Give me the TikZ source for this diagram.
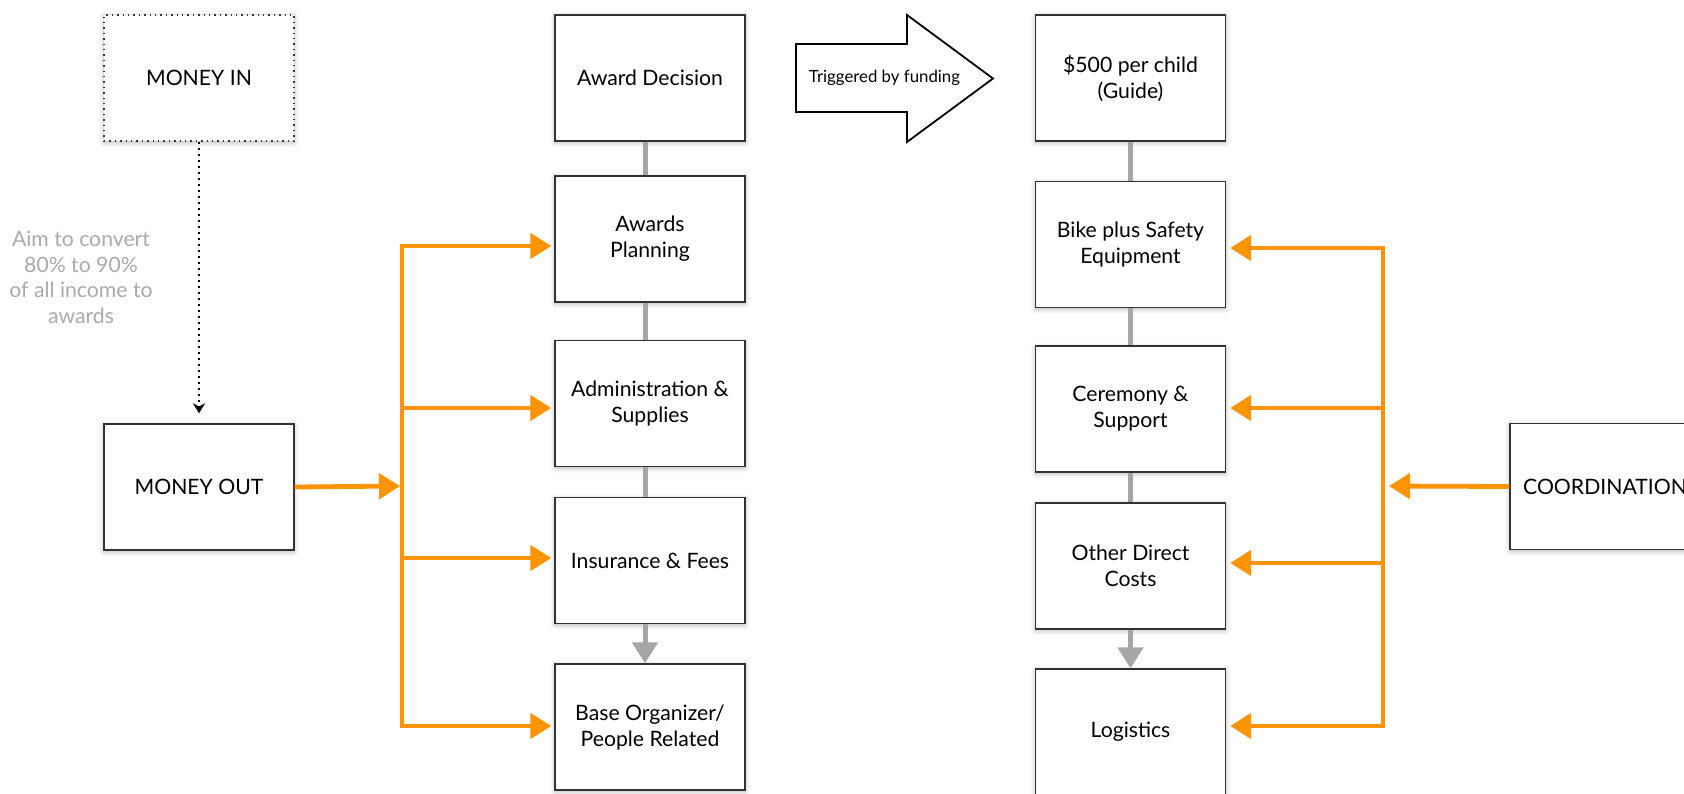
\documentclass[tikz,border=0pt]{standalone}
\usepackage{fontspec}
\setmainfont{Lato}
\usetikzlibrary{arrows.meta,shadows.blur}
\definecolor{org}{RGB}{255,147,0}
\definecolor{conn}{RGB}{166,166,166}
\definecolor{notegray}{RGB}{170,170,170}
\begin{document}
\begin{tikzpicture}[x=0.5pt,y=-0.5pt,
  box/.style={draw=black!80, line width=0.7pt, fill=white, minimum width=95pt, minimum height=63pt,
    inner sep=2pt, align=center, font=\fontsize{10.6pt}{13pt}\selectfont,
    blur shadow={shadow xshift=0pt, shadow yshift=-0.8pt, shadow blur radius=2.5pt, shadow opacity=30}},
  dotbox/.style={box, dotted, line width=0.9pt},
  oline/.style={draw=org, line width=2.4pt},
  oarrow/.style={oline, -{Triangle[length=10.5pt,width=12.5pt]}},
  gline/.style={draw=conn, line width=2.5pt},
  garrow/.style={gline, -{Triangle[length=10.5pt,width=12.5pt]}},
  notetext/.style={text=notegray, align=center, font=\fontsize{10.6pt}{12.8pt}\selectfont},
]
\useasboundingbox (0,0) rectangle (1684,793);

% left column
\node[dotbox] (in) at (199,78) {MONEY IN};
\node[box] (out) at (199,487) {MONEY OUT};
\node[notetext] (note) at (81,277.5) {Aim to convert\\80\% to 90\%\\of all income to\\awards};

% middle column
\node[box] (dec) at (650,78) {Award Decision};
\node[box] (plan) at (650,239) {Awards\\Planning};
\node[box] (adm) at (650,403.5) {Administration \&\\Supplies};
\node[box] (ins) at (650,560.5) {Insurance \& Fees};
\node[box] (base) at (650,727) {Base Organizer/\\People Related};

% right column
\node[box] (guide) at (1130.5,78) {\$500 per child\\(Guide)};
\node[box] (bike) at (1130.5,244.5) {Bike plus Safety\\Equipment};
\node[box] (cer) at (1130.5,409) {Ceremony \&\\Support};
\node[box] (oth) at (1130.5,566) {Other Direct\\Costs};
\node[box] (log) at (1130.5,732) {Logistics};
\node[box] (coord) at (1605,486.5) {COORDINATION};

% big block arrow
\draw[line width=0.9pt, fill=white] (796,44) -- (907,44) -- (907,15) -- (993,78.5) -- (907,142) -- (907,112) -- (796,112) -- cycle;
\node[font=\fontsize{8.4pt}{10pt}\selectfont] (trig) at (884.5,78) {Triggered by funding};

% dotted arrow
\draw[dotted, line width=1pt, -{Stealth[length=5pt,width=6pt]}, shorten >=5pt] (in.south) -- (out.north);

% gray connectors middle
\draw[gline] ([xshift=-2.5pt]dec.south) -- ([xshift=-2.5pt]plan.north);
\draw[gline] ([xshift=-2.5pt]plan.south) -- ([xshift=-2.5pt]adm.north);
\draw[gline] ([xshift=-2.5pt]adm.south) -- ([xshift=-2.5pt]ins.north);
\draw[garrow] ([xshift=-2.5pt]ins.south) -- ([xshift=-2.5pt]base.north);
% gray connectors right
\draw[gline] (guide.south) -- (bike.north);
\draw[gline] (bike.south) -- (cer.north);
\draw[gline] (cer.south) -- (oth.north);
\draw[garrow] (oth.south) -- (log.north);

% left orange bus
\coordinate (LT1) at (402,246);
\coordinate (LT2) at (402,408);
\coordinate (LM)  at (402,486);
\coordinate (LT3) at (402,558);
\coordinate (LT4) at (402,726);
\draw[oarrow, shorten >=1.5pt] (LM) -- (LT1) -- (LT1 -| plan.west);
\draw[oarrow, shorten >=1.5pt] (LM) -- (LT4) -- (LT4 -| base.west);
\draw[oarrow, shorten >=1.5pt] (LT2) -- (LT2 -| adm.west);
\draw[oarrow, shorten >=1.5pt] (LT3) -- (LT3 -| ins.west);
\draw[oarrow, shorten >=1pt] (out.east) -- (LM);

% right orange bus
\coordinate (RT1) at (1383,248);
\coordinate (RT2) at (1383,408);
\coordinate (RM)  at (1383,486);
\coordinate (RT3) at (1383,563);
\coordinate (RT4) at (1383,726);
\draw[oarrow, shorten >=2pt] (RM) -- (RT1) -- (RT1 -| bike.east);
\draw[oarrow, shorten >=2pt] (RM) -- (RT4) -- (RT4 -| log.east);
\draw[oarrow, shorten >=2pt] (RT2) -- (RT2 -| cer.east);
\draw[oarrow, shorten >=2pt] (RT3) -- (RT3 -| oth.east);
\draw[oarrow, shorten >=3pt] (coord.west) -- (RM);
\end{tikzpicture}
\end{document}
